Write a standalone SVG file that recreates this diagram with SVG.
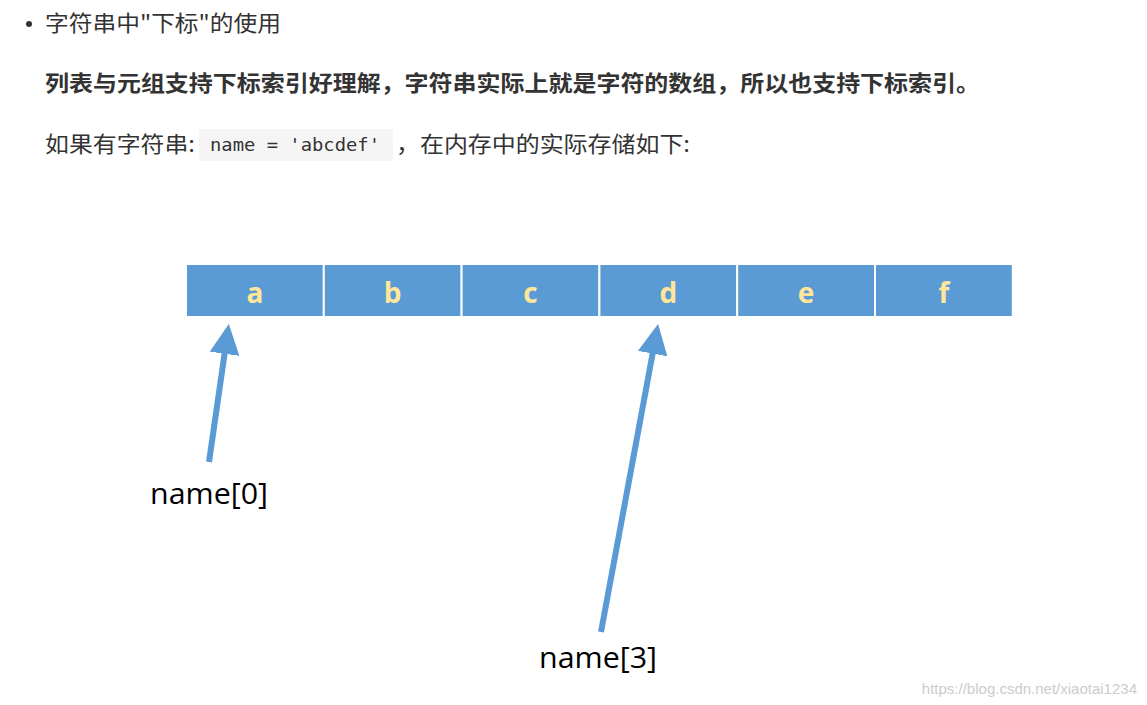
<svg xmlns="http://www.w3.org/2000/svg" width="1147" height="705" viewBox="0 0 1147 705">
<style>
.t{font-family:"Noto Sans CJK SC","Noto Sans",sans-serif;fill:#333;font-size:22px}
.c{fill:#5b9bd5;stroke:#fff;stroke-width:2}
.l{font-family:"Open Sans","Noto Sans",sans-serif;font-weight:bold;font-size:28px;fill:#ffe699;text-anchor:middle}
.n{font-family:"Open Sans","Noto Sans",sans-serif;font-size:29px;fill:#000}
.a{stroke:#5b9bd5;stroke-width:6;fill:none}
</style>
<defs><marker id="m" markerWidth="5" markerHeight="5" refX="4" refY="2.5" orient="auto" markerUnits="strokeWidth"><path d="M0,0L5,2.5L0,5z" fill="#5b9bd5"/></marker></defs>
<rect width="1147" height="705" fill="#fff"/>
<circle cx="29" cy="24" r="3" fill="#333"/>
<text class="t" x="45" y="31" textLength="236" lengthAdjust="spacingAndGlyphs">字符串中"下标"的使用</text>
<text class="t" x="45" y="91" font-weight="bold" textLength="935" lengthAdjust="spacingAndGlyphs">列表与元组支持下标索引好理解，字符串实际上就是字符的数组，所以也支持下标索引。</text>
<text class="t" x="45" y="152" textLength="150" lengthAdjust="spacingAndGlyphs">如果有字符串:</text>
<rect x="199" y="129" width="194" height="32" fill="#f5f5f5"/>
<text x="210" y="151" font-family="'DejaVu Sans Mono',monospace" font-size="17" fill="#333" textLength="170" lengthAdjust="spacingAndGlyphs">name = 'abcdef'</text>
<text class="t" x="396" y="152" textLength="294" lengthAdjust="spacingAndGlyphs">，在内存中的实际存储如下:</text>
<g id="cells">
<g id="ca"><rect class="c" x="186" y="264" width="137.8" height="53"/><text class="l" x="255" y="303">a</text></g>
<g id="cb"><rect class="c" x="323.8" y="264" width="137.8" height="53"/><text class="l" x="392.7" y="303">b</text></g>
<g id="cc"><rect class="c" x="461.6" y="264" width="137.8" height="53"/><text class="l" x="530.5" y="303">c</text></g>
<g id="cd"><rect class="c" x="599.4" y="264" width="137.8" height="53"/><text class="l" x="668.3" y="303">d</text></g>
<g id="ce"><rect class="c" x="737.2" y="264" width="137.8" height="53"/><text class="l" x="806.1" y="303">e</text></g>
<g id="cf"><rect class="c" x="875" y="264" width="137.8" height="53"/><text class="l" x="943.9" y="303">f</text></g>
</g>
<g id="connectors">
<line class="a" x1="209" y1="462" x2="228" y2="330" marker-end="url(#m)"/>
<line class="a" x1="601" y1="632" x2="657" y2="330" marker-end="url(#m)"/>
</g>
<g id="n0"><text class="n" x="150" y="504" textLength="118" lengthAdjust="spacingAndGlyphs">name[0]</text></g>
<g id="n3"><text class="n" x="539" y="668" textLength="118" lengthAdjust="spacingAndGlyphs">name[3]</text></g>
<text x="1137" y="694" text-anchor="end" font-family="'Liberation Sans',sans-serif" font-size="15" fill="#ccc">https://blog.csdn.net/xiaotai1234</text>
</svg>
